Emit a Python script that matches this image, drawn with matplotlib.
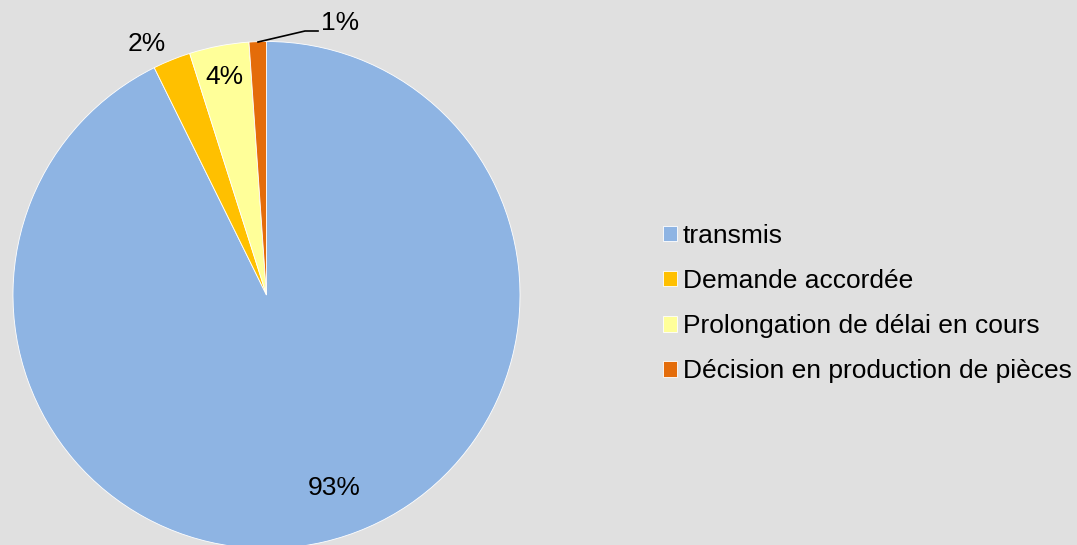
import matplotlib.pyplot as plt

# Data
categories = ["transmis", "Demande accordée", "Prolongation de délai en cours",
              "Décision en production de pièces"]
values = [92.7, 2.4, 3.8, 1.1]
pct_labels = ["93%", "2%", "4%", "1%"]
colors = ["#8EB4E3", "#FFC000", "#FFFF99", "#E46C0A"]

bg = "#E0E0E0"
plt.rcParams['font.family'] = ['Liberation Sans', 'DejaVu Sans']

fig = plt.figure(figsize=(10.77, 5.45), dpi=100, facecolor=bg)
ax = fig.add_axes([0, 0, 1, 1])
ax.set_facecolor(bg)

# Pie (pixel coordinates, y up)
wedges, _ = ax.pie(values, colors=colors, startangle=90, counterclock=False,
                   center=(266.5, 250), radius=253.5, frame=True,
                   wedgeprops=dict(edgecolor="white", linewidth=0.6))
ax.set_xlim(0, 1077)
ax.set_ylim(0, 545)
ax.set_aspect('equal')
ax.axis('off')

# Percentage labels
label_pos = [(334, 57), (147, 501), (224, 468), (340, 522)]
for txt, (x, y) in zip(pct_labels, label_pos):
    ax.text(x, y, txt, fontsize=19, ha='center', va='center', color='black')

# leader line for the small slice
ax.plot([258, 305, 318], [503, 514, 514], color='black', linewidth=1.2)

# Legend
leg = ax.legend(wedges, categories, loc='center left',
                bbox_to_anchor=(0.6156, 0.443), frameon=False,
                fontsize=19, handlelength=0.53, handleheight=0.53,
                handletextpad=0.23, labelspacing=0.8, borderaxespad=0,
                borderpad=0)

fig.savefig("out.png", dpi=100, facecolor=bg)
